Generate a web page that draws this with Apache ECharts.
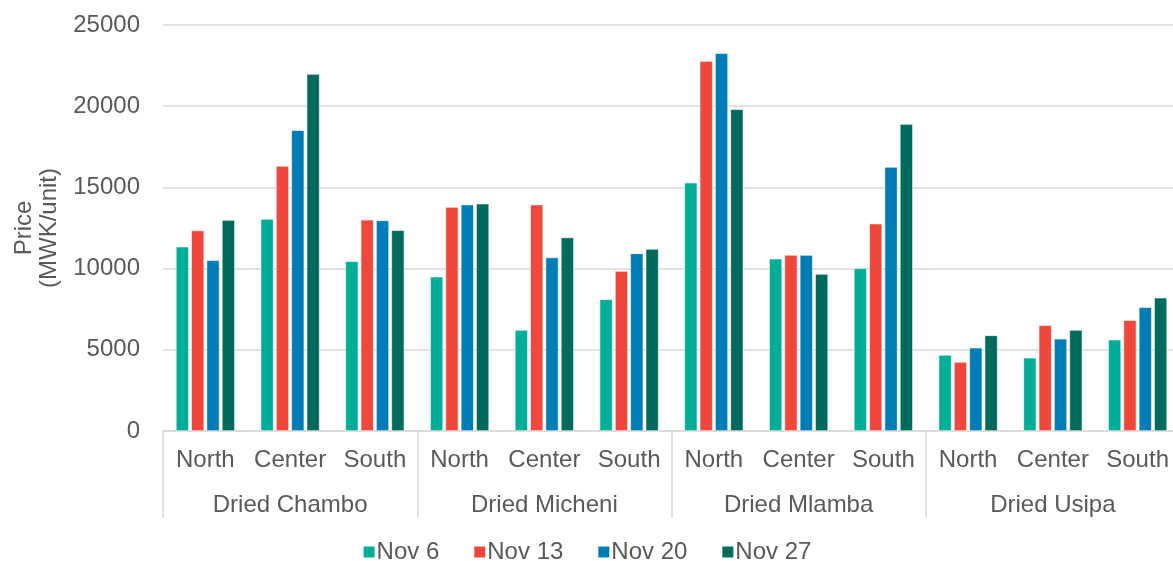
<!DOCTYPE html>
<html style="height: 100%">
<head>
<meta charset="utf-8">
<script src="https://cdn.jsdelivr.net/npm/echarts@6/dist/echarts.min.js"></script>
</head>
<body style="height: 100%; margin: 0">
<div id="container" style="width: 1173px; height: 561px"></div>
<script type="text/javascript">
var regions = ['North', 'Center', 'South', 'North', 'Center', 'South', 'North', 'Center', 'South', 'North', 'Center', 'South'];
var groups = ['Dried Chambo', 'Dried Micheni', 'Dried Mlamba', 'Dried Usipa'];
var seriesNames = ['Nov 6', 'Nov 13', 'Nov 20', 'Nov 27'];
var nov6 = [11350, 13050, 10450, 9500, 6220, 8110, 15290, 10610, 10020, 4680, 4510, 5620];
var nov13 = [12350, 16320, 13010, 13790, 13940, 9850, 22780, 10840, 12770, 4250, 6510, 6830];
var nov20 = [10510, 18520, 12970, 13940, 10690, 10940, 23260, 10840, 16260, 5130, 5680, 7630];
var nov27 = [12990, 21980, 12360, 14000, 11920, 11210, 19810, 9670, 18900, 5890, 6220, 8210];
var colors = ['#00AD97', '#F0473C', '#007CB7', '#006A5D'];

var dom = document.getElementById("container");
var myChart = echarts.init(dom);
var textColor = '#595959';
var lineColor = '#d9d9d9';

var allData = [nov6, nov13, nov20, nov27];
var series = allData.map(function(d, i) {
	return {
		name: seriesNames[i],
		type: 'bar',
		data: d,
		barWidth: 13,
		barGap: '18%',
		itemStyle: { color: colors[i], borderColor: '#fff', borderWidth: 0.6 }
	};
});

var option = {
	animation: false,
	textStyle: { fontFamily: 'Liberation Sans, Arial, sans-serif' },
	color: colors,
	// plot runs slightly past the right edge, as in the original
	grid: { left: 163, right: -7, top: 25, bottom: 130, outerBoundsMode: 'none' },
	legend: {
		bottom: -8,
		left: 'center',
		itemWidth: 13,
		itemHeight: 13,
		itemGap: 33,
		icon: 'rect',
		textStyle: { fontSize: 24, color: textColor, padding: [0, 0, 0, -4] },
		data: seriesNames
	},
	xAxis: [{
		type: 'category',
		data: regions,
		axisLine: { lineStyle: { color: lineColor, width: 1.5 } },
		axisTick: { show: false },
		axisLabel: { fontSize: 24, color: textColor, margin: 17, interval: 0 }
	}, {
		type: 'category',
		data: groups,
		position: 'bottom',
		axisLine: { show: false },
		axisTick: { show: true, length: 87, lineStyle: { color: lineColor, width: 1.5 } },
		axisLabel: { fontSize: 24, color: textColor, margin: 62, interval: 0 }
	}],
	yAxis: {
		type: 'value',
		min: 0,
		max: 25000,
		interval: 5000,
		name: 'Price\n(MWK/unit)',
		nameLocation: 'middle',
		nameGap: 101,
		nameRotate: 90,
		nameTextStyle: { fontSize: 24, color: textColor, lineHeight: 25 },
		axisLine: { show: false },
		axisTick: { show: false },
		axisLabel: {
			fontSize: 24, color: textColor, margin: 23,
			formatter: function(v) { return String(v); }
		},
		splitLine: { lineStyle: { color: lineColor, width: 1.5 } }
	},
	series: series
};
myChart.setOption(option);
</script>
</body>
</html>
